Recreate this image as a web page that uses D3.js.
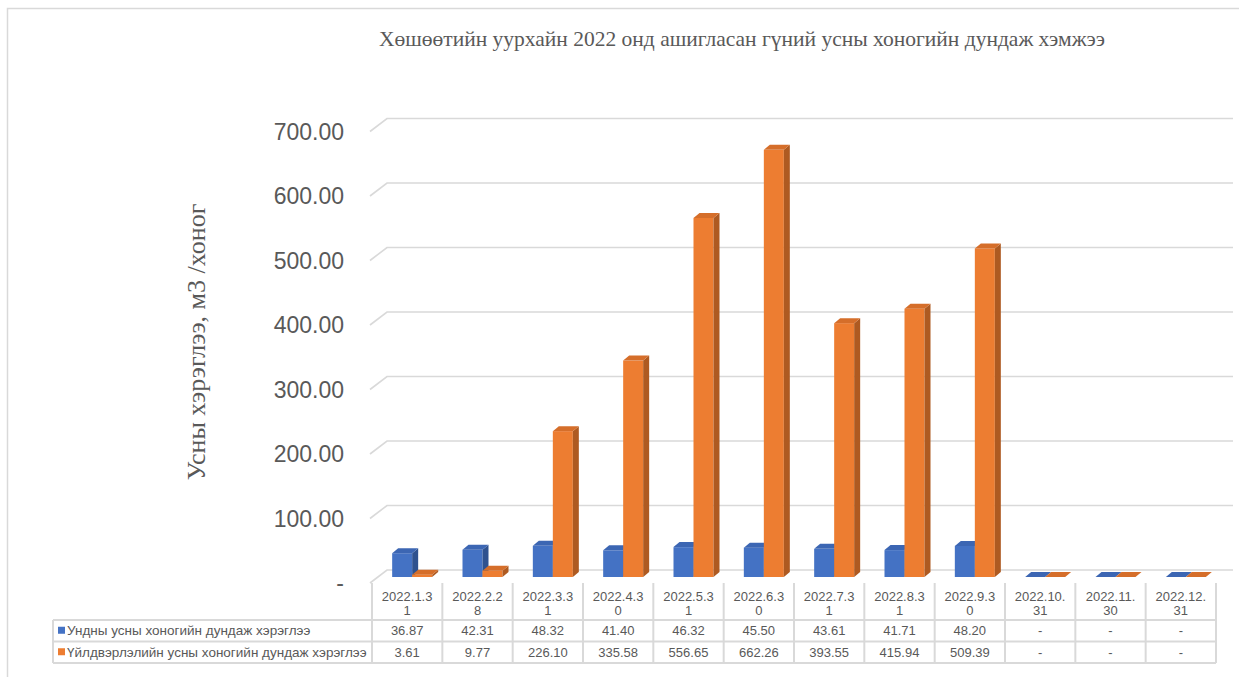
<!DOCTYPE html>
<html>
<head>
<meta charset="utf-8">
<script src="https://cdn.jsdelivr.net/npm/d3@7"></script>
<style>
  body { margin: 0; background: #fff; }
  svg { display: block; }
</style>
</head>
<body>
<div class="chart"></div>
<script>
// data
var months = ["2022.1.31", "2022.2.28", "2022.3.31", "2022.4.30", "2022.5.31", "2022.6.30",
              "2022.7.31", "2022.8.31", "2022.9.30", "2022.10.31", "2022.11.30", "2022.12.31"];
var domestic = [36.87, 42.31, 48.32, 41.40, 46.32, 45.50, 43.61, 41.71, 48.20, null, null, null];
var industrial = [3.61, 9.77, 226.10, 335.58, 556.65, 662.26, 393.55, 415.94, 509.39, null, null, null];
var seriesNames = ["Ундны усны хоногийн дундаж хэрэглээ", "Үйлдвэрлэлийн усны хоногийн дундаж хэрэглээ"];
var yTicks = [0, 100, 200, 300, 400, 500, 600, 700];
var title = "Хөшөөтийн уурхайн 2022 онд ашигласан гүний усны хоногийн дундаж хэмжээ";
var yTitle = "Усны хэрэглээ, м3 /хоног";

var W = 1239, H = 677;
var svg = d3.select(".chart").append("svg").attr("width", W).attr("height", H);

var grey = "#595959", line = "#d9d9d9";
var depthX = 17, depthY = 13;     // floor / wall depth
var bx = 6, by = 5;               // bar depth

// outer frame
svg.append("rect").attr("x", 7.5).attr("y", 8.5).attr("width", 1240).attr("height", 700)
  .attr("fill", "none").attr("stroke", line).attr("stroke-width", 1.5);

// title
svg.append("text").attr("x", 742).attr("y", 46).attr("text-anchor", "middle")
  .attr("font-family", "Liberation Serif").attr("font-size", 21.5).attr("fill", grey)
  .text(title);

// scales
var x = d3.scaleBand().domain(months).range([372, 1216]).padding(0);
var yWall = d3.scaleLinear().domain([0, 700]).range([570, 118.5]);
var yBar = d3.scaleLinear().domain([0, 700]).range([577, 577 - 451.5]);

// gridlines (back wall with floor bevel)
svg.append("g").selectAll("path").data(yTicks).enter().append("path")
  .attr("d", d => "M370," + (yWall(d) + depthY) + "L" + (370 + depthX) + "," + yWall(d) + "L1233," + yWall(d))
  .attr("fill", "none").attr("stroke", line).attr("stroke-width", 1.6);

// y tick labels
var fmt = d3.format(".2f");
svg.append("g").selectAll("text").data(yTicks).enter().append("text")
  .attr("x", 344).attr("y", d => yWall(d) + depthY)
  .attr("dy", "0.36em").attr("text-anchor", "end")
  .attr("font-family", "Liberation Sans").attr("font-size", 23).attr("fill", grey)
  .text(d => d === 0 ? "-" : fmt(d));

// y axis title
svg.append("text").attr("transform", "translate(205,342) rotate(-90)")
  .attr("text-anchor", "middle")
  .attr("font-family", "Liberation Serif").attr("font-size", 26).attr("fill", grey)
  .text(yTitle);

// 3d bars
var barW = 20;
var series = [
  { values: domestic, front: "#4472c4", side: "#2f528f", top: "#3c66b3", off: -barW },
  { values: industrial, front: "#ed7d31", side: "#ae5a21", top: "#d56e2a", off: 0 }
];
months.forEach(function (m, i) {
  var cx = x(m) + x.bandwidth() / 2 + 5;
  series.forEach(function (s) {
    var v = s.values[i] || 0;
    var x0 = cx + s.off, x1 = x0 + barW;
    var top = yBar(v), base = yBar(0);
    var g = svg.append("g");
    g.append("rect").attr("x", x0).attr("y", top).attr("width", barW).attr("height", base - top)
      .attr("fill", s.front);
    g.append("path")
      .attr("d", "M" + x1 + "," + top + "L" + (x1 + bx) + "," + (top - by) + "L" + (x1 + bx) + "," + (base - by) + "L" + x1 + "," + base + "Z")
      .attr("fill", s.side);
    g.append("path")
      .attr("d", "M" + x0 + "," + top + "L" + (x0 + bx) + "," + (top - by) + "L" + (x1 + bx) + "," + (top - by) + "L" + x1 + "," + top + "Z")
      .attr("fill", s.top);
  });
});

// data table
var rowY = [620, 641.5, 663];
var tbl = svg.append("g").attr("stroke", line).attr("stroke-width", 2).attr("fill", "none");
rowY.forEach(function (y) {
  tbl.append("line").attr("x1", 53).attr("x2", 1216).attr("y1", y).attr("y2", y);
});
tbl.append("line").attr("x1", 53).attr("x2", 53).attr("y1", 620).attr("y2", 663);
months.concat(["end"]).forEach(function (m, i) {
  var xx = i < months.length ? x(m) : 1216;
  tbl.append("line").attr("x1", xx).attr("x2", xx).attr("y1", 583).attr("y2", 663);
});

// category labels (wrapped like the original)
var hdr = svg.append("g").attr("font-family", "Liberation Sans").attr("font-size", 13)
  .attr("fill", grey).attr("text-anchor", "middle");
months.forEach(function (m) {
  var cx = x(m) + x.bandwidth() / 2;
  hdr.append("text").attr("x", cx).attr("y", 601).text(m.slice(0, 8));
  hdr.append("text").attr("x", cx).attr("y", 615).text(m.slice(8));
});

// value rows
[domestic, industrial].forEach(function (vals, r) {
  var yy = (rowY[r] + rowY[r + 1]) / 2 + 4.5;
  vals.forEach(function (v, i) {
    hdr.append("text").attr("x", x(months[i]) + x.bandwidth() / 2).attr("y", yy)
      .text(v === null ? "-" : fmt(v));
  });
  svg.append("rect").attr("x", 58).attr("y", yy - 8.5).attr("width", 7).attr("height", 7)
    .attr("fill", series[r].front);
  svg.append("text").attr("x", 67).attr("y", yy)
    .attr("font-family", "Liberation Sans").attr("font-size", 13.5).attr("fill", grey)
    .text(seriesNames[r]);
});
</script>
</body>
</html>
